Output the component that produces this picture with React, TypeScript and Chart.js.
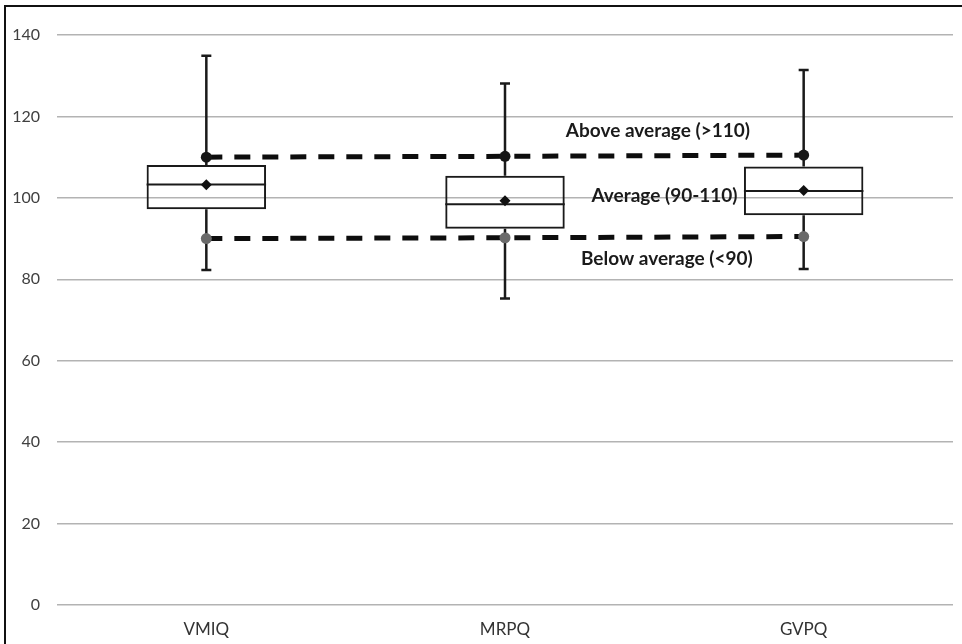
import React, { useEffect, useRef } from 'react';
import { Chart, registerables } from 'chart.js';

Chart.register(...registerables);

const categories = ['VMIQ', 'MRPQ', 'GVPQ'];
const whiskerMin = [82.3, 75.3, 82.5];
const q1 = [97.2, 92.4, 95.7];
const median = [103.3, 98.4, 101.7];
const q3 = [108.1, 105.4, 107.7];
const whiskerMax = [134.9, 128.1, 131.4];
const means = [103.2, 99.3, 101.8];
const aboveLine = [110, 110.2, 110.5];
const belowLine = [90, 90.2, 90.5];
const yTicks = [0, 20, 40, 60, 80, 100, 120, 140];
const bandLabels = ['Above average (>110)', 'Average (90-110)', 'Below average (<90)'];
const bandLabelValues = [116.4, 100.5, 85.0];
const bandLabelPositions = [1.512, 1.534, 1.542];

const framePlugin = {
  id: 'frame',
  beforeDraw(chart: any) {
    const ctx = chart.ctx;
    ctx.save();
    ctx.fillStyle = '#ffffff';
    ctx.fillRect(0, 0, chart.width, chart.height);
    ctx.strokeStyle = '#111111';
    ctx.lineWidth = 2;
    ctx.beginPath();
    ctx.moveTo(5, chart.height);
    ctx.lineTo(5, 6);
    ctx.lineTo(chart.width, 6);
    ctx.stroke();
    ctx.restore();
  },
};

const boxPlugin = {
  id: 'boxExtras',
  beforeDatasetsDraw(chart: any) {
    const ctx = chart.ctx;
    const y = chart.scales.y;
    const meta = chart.getDatasetMeta(0);
    ctx.save();
    ctx.strokeStyle = '#1a1a1a';
    ctx.lineCap = 'butt';
    categories.forEach((_, i) => {
      const el = meta.data[i];
      if (!el) return;
      const props = el.getProps(['x', 'width'], true);
      const cx = props.x;
      const half = props.width / 2;
      const yMin = y.getPixelForValue(whiskerMin[i]);
      const yQ1 = y.getPixelForValue(q1[i]);
      const yQ3 = y.getPixelForValue(q3[i]);
      const yMax = y.getPixelForValue(whiskerMax[i]);
      const yMed = y.getPixelForValue(median[i]);
      ctx.lineWidth = 2.5;
      ctx.beginPath();
      ctx.moveTo(cx, yQ3);
      ctx.lineTo(cx, yMax);
      ctx.moveTo(cx, yQ1);
      ctx.lineTo(cx, yMin);
      ctx.stroke();
      ctx.beginPath();
      ctx.moveTo(cx - 5, yMax);
      ctx.lineTo(cx + 5, yMax);
      ctx.moveTo(cx - 5, yMin);
      ctx.lineTo(cx + 5, yMin);
      ctx.stroke();
      ctx.lineWidth = 2;
      ctx.beginPath();
      ctx.moveTo(cx - half, yMed);
      ctx.lineTo(cx + half, yMed);
      ctx.stroke();
    });
    ctx.restore();
  },
};

const labelPlugin = {
  id: 'bandLabels',
  afterDatasetsDraw(chart: any) {
    const ctx = chart.ctx;
    const x = chart.scales.x;
    const y = chart.scales.y;
    ctx.save();
    ctx.fillStyle = '#1a1a1a';
    ctx.font = 'bold 19px Lato';
    ctx.textAlign = 'center';
    ctx.textBaseline = 'middle';
    bandLabels.forEach((t, i) => {
      ctx.fillText(t, x.getPixelForValue(bandLabelPositions[i]), y.getPixelForValue(bandLabelValues[i]));
    });
    ctx.restore();
  },
};

export default function App() {
  const ref = useRef<HTMLCanvasElement>(null);
  useEffect(() => {
    if (!ref.current) return;
    const chart = new Chart(ref.current, {
      type: 'bar',
      data: {
        labels: categories,
        datasets: [
          {
            type: 'bar',
            label: 'Box',
            data: categories.map((_, i) => [q1[i], q3[i]]) as any,
            backgroundColor: 'rgba(0,0,0,0)',
            borderColor: '#1a1a1a',
            borderWidth: 2,
            borderSkipped: false,
            barPercentage: 0.4,
            categoryPercentage: 1,
            order: 3,
          } as any,
          {
            type: 'line',
            label: 'Above average',
            data: aboveLine,
            borderColor: '#0d0d0d',
            borderWidth: 5,
            borderDash: [16, 12],
            pointRadius: 5.5,
            pointBackgroundColor: '#161616',
            pointBorderColor: '#161616',
            pointBorderWidth: 0,
            fill: false,
            order: 2,
          } as any,
          {
            type: 'line',
            label: 'Below average',
            data: belowLine,
            borderColor: '#0d0d0d',
            borderWidth: 5,
            borderDash: [16, 12],
            pointRadius: 5.5,
            pointBackgroundColor: '#6a6a6a',
            pointBorderColor: '#6a6a6a',
            pointBorderWidth: 0,
            fill: false,
            order: 2,
          } as any,
          {
            type: 'line',
            label: 'Mean',
            data: means,
            showLine: false,
            pointStyle: 'rectRot',
            pointRadius: 5.5,
            pointBackgroundColor: '#111111',
            pointBorderColor: '#111111',
            pointBorderWidth: 0,
            order: 1,
          } as any,
        ],
      },
      options: {
        responsive: false,
        maintainAspectRatio: false,
        animation: false,
        layout: { padding: { top: 35, right: 9, left: 0, bottom: 0 } },
        plugins: {
          legend: { display: false },
          tooltip: { enabled: false },
        },
        scales: {
          x: {
            type: 'category',
            offset: true,
            grid: { display: false, drawTicks: false },
            border: { display: false },
            ticks: {
              color: '#333333',
              font: { family: 'Lato', size: 17 },
              padding: 14,
            },
            afterFit(scale: any) {
              scale.height = 39;
            },
          },
          y: {
            min: 0,
            max: 140,
            grid: { color: '#b3b3b3', lineWidth: 1.5, drawTicks: false },
            border: { display: false },
            ticks: {
              color: '#404040',
              font: { family: 'Lato', size: 16 },
              padding: 17,
            },
            afterBuildTicks(scale: any) {
              scale.ticks = yTicks.map((v) => ({ value: v }));
            },
            afterFit(scale: any) {
              scale.width = 57;
            },
          },
        },
      },
      plugins: [framePlugin, boxPlugin, labelPlugin],
    });
    return () => chart.destroy();
  }, []);
  return (
    <div style={{ position: 'fixed', left: 0, top: 0, width: 962, height: 644 }}>
      <canvas ref={ref} width={962} height={644} style={{ display: 'block' }} />
    </div>
  );
}
